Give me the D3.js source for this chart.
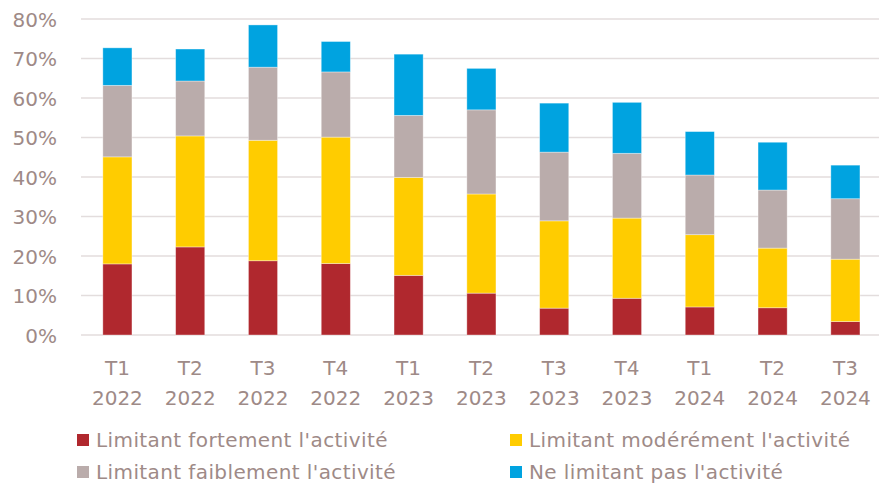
<!DOCTYPE html>
<html><head><meta charset="utf-8">
<script src="https://cdn.jsdelivr.net/npm/d3@7"></script>
<style>
html,body{margin:0;padding:0;background:#fff;}
svg{display:block;}
text{font-family:"DejaVu Sans",sans-serif;fill:#9E8A87;}
</style></head><body>
<svg id="c" width="879" height="484"></svg>
<script>
const quarters = ["T1","T2","T3","T4","T1","T2","T3","T4","T1","T2","T3"];
const years = ["2022","2022","2022","2022","2023","2023","2023","2023","2024","2024","2024"];
const fortement = [18.0,22.3,18.8,18.1,15.1,10.6,6.8,9.3,7.1,6.9,3.4];
const moderement = [27.1,28.1,30.5,32.0,24.8,25.1,22.1,20.3,18.3,15.1,15.8];
const faiblement = [18.1,13.9,18.5,16.5,15.7,21.3,17.4,16.4,15.1,14.7,15.3];
const pasLimitant = [9.5,8.1,10.7,7.7,15.5,10.5,12.4,12.9,11.0,12.1,8.5];
const seriesNames = ["Limitant fortement l'activité","Limitant modérément l'activité","Limitant faiblement l'activité","Ne limitant pas l'activité"];
const colors = ["#B0282E","#FFCC00","#BAACAB","#00A3E0"];
const yTicks = [0,10,20,30,40,50,60,70,80];

const svg = d3.select("#c");
const keys = ["f","m","l","p"];
const table = quarters.map((q,i)=>({id:i, q, y:years[i], f:fortement[i], m:moderement[i], l:faiblement[i], p:pasLimitant[i]}));

const x = d3.scaleBand().domain(table.map(d=>d.id)).range([81,881.8]).paddingInner(0.6).paddingOuter(0.3);
const y = d3.scaleLinear().domain([0,80]).range([335,19]);

// gridlines
svg.append("g").selectAll("line").data(yTicks).join("line")
  .attr("x1",81).attr("x2",879)
  .attr("y1",d=>y(d)).attr("y2",d=>y(d))
  .attr("stroke","#E3DDDD").attr("stroke-width",1.5);

// y labels
const yAxis = d3.axisLeft(y).tickValues(yTicks).tickFormat(d=>d+"%").tickSize(0).tickPadding(0);
const ya = svg.append("g").attr("transform","translate(57,0)").call(yAxis);
ya.select(".domain").remove();
ya.selectAll("text").attr("font-size",20).attr("font-family","DejaVu Sans").attr("fill","#9E8A87").attr("dy","0.36em");

const stack = d3.stack().keys(keys)(table);
svg.append("g").selectAll("g").data(stack).join("g")
  .attr("fill",(d,i)=>colors[i])
  .selectAll("rect").data(d=>d).join("rect")
  .attr("x",d=>x(d.data.id)).attr("width",x.bandwidth())
  .attr("y",d=>y(d[1])).attr("height",d=>y(d[0])-y(d[1]))
  .attr("stroke","#ffffff").attr("stroke-opacity",0.45).attr("stroke-width",0.8);

// x labels
const xl = svg.append("g").selectAll("text").data(table).join("text")
  .attr("x",d=>x(d.id)+x.bandwidth()/2).attr("text-anchor","middle").attr("font-size",20);
xl.append("tspan").attr("x",d=>x(d.id)+x.bandwidth()/2).attr("y",375).text(d=>d.q);
xl.append("tspan").attr("x",d=>x(d.id)+x.bandwidth()/2).attr("y",405).text(d=>d.y);

// legend
const legPos = [[77,440],[510,440],[77,472],[510,472]];
const lg = svg.append("g").selectAll("g").data(seriesNames).join("g")
  .attr("transform",(d,i)=>`translate(${legPos[i][0]},${legPos[i][1]})`);
lg.append("rect").attr("x",0).attr("y",-6).attr("width",12).attr("height",12).attr("fill",(d,i)=>colors[i]);
lg.append("text").attr("x",19).attr("y",7).attr("font-size",20).attr("letter-spacing",0.4).text(d=>d);
</script>
</body></html>
